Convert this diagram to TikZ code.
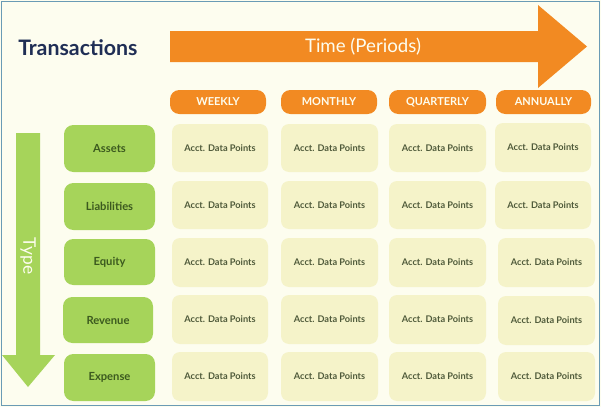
\documentclass[tikz,border=0pt]{standalone}
\usepackage{fontspec}
\setmainfont{Lato}
\definecolor{bg}{HTML}{FDFDEF}
\definecolor{frame}{HTML}{6A9BB5}
\definecolor{orng}{HTML}{F28A22}
\definecolor{grn}{HTML}{A6D45A}
\definecolor{cellc}{HTML}{F5F3C9}
\definecolor{navy}{HTML}{1F2E55}
\definecolor{celltxt}{HTML}{4F5A3A}
\definecolor{lbltxt}{HTML}{3C5A1F}
\tikzset{
  px/.style={x=0.75pt,y=-0.75pt},
  cellbox/.style={fill=cellc,rounded corners=6pt,inner sep=0pt,font=\fontsize{6.9}{8}\selectfont\bfseries,text=celltxt},
  hdrbox/.style={fill=orng,rounded corners=7pt,inner sep=0pt,font=\fontsize{8.2}{9}\selectfont\bfseries,text=bg},
  lblbox/.style={fill=grn,rounded corners=7pt,inner sep=0pt,font=\fontsize{8.4}{10}\selectfont\bfseries,text=lbltxt},
}
\newcommand\pbox[7]{% style,name,x1,y1,x2,y2,text
  \node[#1,minimum width={(#5-#3)*0.75pt},minimum height={(#6-#4)*0.75pt}] (#2) at ({(#3+#5)/2},{(#4+#6)/2}) {#7};}
\begin{document}
\begin{tikzpicture}[px]
\useasboundingbox (0,0) rectangle (601,407);
\fill[bg] (0,0) rectangle (601,407);
\draw[frame,line width=1pt] (1.5,1.5) rectangle (599.5,405.5);
% title
\node[anchor=west,text=navy,font=\fontsize{16}{19}\selectfont\bfseries,inner sep=0pt] (title) at (18,48) {Transactions};
% orange arrow
\fill[orng] (170,31) -- (538,31) -- (538,5) -- (587,46.5) -- (538,88) -- (538,62) -- (170,62) -- cycle;
\node[text=bg,font=\fontsize{14}{16}\selectfont,inner sep=0pt] (time) at (363,46.5) {Time (Periods)};
% green arrow
\fill[grn] (16,133) -- (40,133) -- (40,355) -- (55,355) -- (28,387) -- (2,355) -- (16,355) -- cycle;
\node[text=bg,font=\fontsize{13}{15}\selectfont,rotate=-90,inner sep=0pt] (type) at (28,256) {Type};
% headers
\pbox{hdrbox}{h1}{170}{90}{266}{114}{WEEKLY}
\pbox{hdrbox}{h2}{281}{90}{377}{114}{MONTHLY}
\pbox{hdrbox}{h3}{389}{90}{486}{114}{QUARTERLY}
\pbox{hdrbox}{h4}{496}{90}{591}{114}{ANNUALLY}
% row labels
\pbox{lblbox}{r1}{64}{125}{155}{172}{Assets}
\pbox{lblbox}{r2}{64}{183}{155}{230}{Liabilities}
\pbox{lblbox}{r3}{64}{239}{155}{285}{Equity}
\pbox{lblbox}{r4}{63}{297}{153}{343}{Revenue}
\pbox{lblbox}{r5}{64}{354}{155}{401}{Expense}
% cells
\foreach \r/\ya/\yb in {1/124/172,2/181/229,3/238/287,4/295/344,5/352/401}{
  \pbox{cellbox}{c\r-1}{172}{\ya}{268}{\yb}{Acct. Data Points}
  \pbox{cellbox}{c\r-2}{281}{\ya}{378}{\yb}{Acct. Data Points}
  \pbox{cellbox}{c\r-3}{389}{\ya}{486}{\yb}{Acct. Data Points}
}
\pbox{cellbox}{c1-4}{495}{123}{591}{172}{Acct. Data Points}
\pbox{cellbox}{c2-4}{495}{181}{591}{229}{Acct. Data Points}
\pbox{cellbox}{c3-4}{498}{238}{595}{287}{Acct. Data Points}
\pbox{cellbox}{c4-4}{498}{296}{595}{345}{Acct. Data Points}
\pbox{cellbox}{c5-4}{498}{352}{595}{401}{Acct. Data Points}
\end{tikzpicture}
\end{document}
